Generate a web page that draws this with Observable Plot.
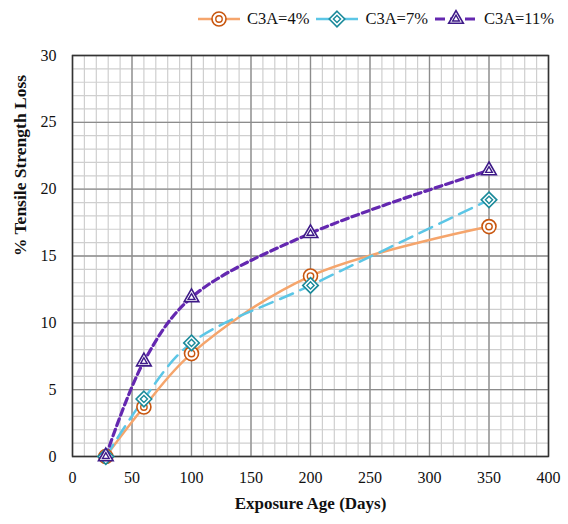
<!DOCTYPE html>
<html>
<head>
<meta charset="utf-8">
<script src="https://cdn.jsdelivr.net/npm/d3@7"></script>
<script src="https://cdn.jsdelivr.net/npm/@observablehq/plot@0.6"></script>
<style>
  body { margin: 0; background: #fff; font-family: "Liberation Serif", "Times New Roman", serif; }
  #wrap { width: 568px; }
  #legend { height: 40px; display: flex; justify-content: flex-end; align-items: center; padding-right: 14px; box-sizing: border-box; font-size: 16.5px; color: #111; }
  #legend .item { display: flex; align-items: center; height: 22px; margin-left: 4px; margin-top: -3px; }
  #legend svg { display: block; }
</style>
</head>
<body>
<div id="wrap">
  <div id="legend"></div>
  <div id="chart"></div>
</div>
<script>
const days = [28, 60, 100, 200, 350];
const c3a4 = [0, 3.7, 7.7, 13.5, 17.2];
const c3a7 = [0, 4.3, 8.5, 12.8, 19.2];
const c3a11 = [0, 7.1, 11.9, 16.7, 21.4];
const seriesNames = ["C3A=4%", "C3A=7%", "C3A=11%"];
const xTicks = [0, 50, 100, 150, 200, 250, 300, 350, 400];
const yTicks = [0, 5, 10, 15, 20, 25, 30];
const xMinor = d3.range(0, 401, 10);
const yMinor = d3.range(0, 31, 1);

const styles = {
  "C3A=4%": {line: "#F5A56C", mark: "#C8560F", symbol: "circle", dash: null, width: 2.5},
  "C3A=7%": {line: "#5CC6E6", mark: "#1A8A9A", symbol: "diamond2", dash: "14,8", width: 2.5},
  "C3A=11%": {line: "#6428B0", mark: "#3E1A88", symbol: "triangle2", dash: "7,4", width: 3.2}
};

const seriesVals = [c3a4, c3a7, c3a11];
const data = seriesNames.map((name, i) => days.map((d, j) => ({series: name, day: d, value: seriesVals[i][j]})));

const marks = [
  Plot.ruleX(xMinor, {stroke: "#cfcfcf", strokeWidth: 1.2}),
  Plot.ruleY(yMinor, {stroke: "#cfcfcf", strokeWidth: 1.2}),
  Plot.ruleX(xTicks, {stroke: "#8c8c8c", strokeWidth: 1.3}),
  Plot.ruleY(yTicks, {stroke: "#8c8c8c", strokeWidth: 1.3}),
  Plot.frame({stroke: "#333", strokeWidth: 1.5}),
  Plot.axisX(xTicks, {tickSize: 0, tickPadding: 15, fontSize: 16, label: null}),
  Plot.axisY(yTicks, {tickSize: 0, tickPadding: 16, fontSize: 16, label: null}),
  Plot.text(["Exposure Age (Days)"], {frameAnchor: "bottom", dy: 52, fontWeight: "bold", fontSize: 17}),
  Plot.text(["% Tensile Strength Loss"], {frameAnchor: "left", rotate: -90, dx: -52, fontWeight: "bold", fontSize: 17.5})
];

seriesNames.forEach((name, i) => {
  const s = styles[name];
  marks.push(Plot.line(data[i], {x: "day", y: "value", stroke: s.line, strokeWidth: s.width, strokeDasharray: s.dash, curve: "catmull-rom"}));
});
seriesNames.forEach((name, i) => {
  const s = styles[name];
  marks.push(Plot.dot(data[i], {x: "day", y: "value", symbol: s.symbol, r: 7, stroke: s.mark, fill: "white", strokeWidth: 1.6}));
  marks.push(Plot.dot(data[i], {x: "day", y: "value", symbol: s.symbol, r: 3.2, stroke: s.mark, fill: "none", strokeWidth: 1.4}));
});

const chart = Plot.plot({
  width: 568,
  height: 484,
  marginLeft: 72,
  marginRight: 20,
  marginTop: 15,
  marginBottom: 68,
  clip: false,
  x: {domain: [0, 400]},
  y: {domain: [0, 30]},
  style: {fontFamily: "'Liberation Serif', 'Times New Roman', serif", color: "#111", background: "white", overflow: "visible"},
  marks
});
document.getElementById("chart").appendChild(chart);

// legend
const legend = d3.select("#legend");
const symPaths = {
  circle: (r) => d3.symbol(d3.symbolCircle, Math.PI * r * r)(),
  diamond2: (r) => d3.symbol(d3.symbolDiamond2, Math.PI * r * r)(),
  triangle2: (r) => d3.symbol(d3.symbolTriangle2, Math.PI * r * r)()
};
seriesNames.forEach((name, i) => {
  const s = styles[name];
  const item = legend.append("div").attr("class", "item");
  const svg = item.append("svg").attr("width", 48).attr("height", 22);
  svg.append("line").attr("x1", 3).attr("x2", 45).attr("y1", 11).attr("y2", 11)
    .attr("stroke", s.line).attr("stroke-width", s.width).attr("stroke-dasharray", s.dash ? (i === 1 ? "18,8" : "10,5") : null);
  const g = svg.append("g").attr("transform", "translate(24,11)");
  g.append("path").attr("d", symPaths[s.symbol](7)).attr("fill", "white").attr("stroke", s.mark).attr("stroke-width", 1.6);
  g.append("path").attr("d", symPaths[s.symbol](3.2)).attr("fill", "none").attr("stroke", s.mark).attr("stroke-width", 1.4);
  item.append("span").text(name).style("margin-left", "4px");
});
</script>
</body>
</html>
